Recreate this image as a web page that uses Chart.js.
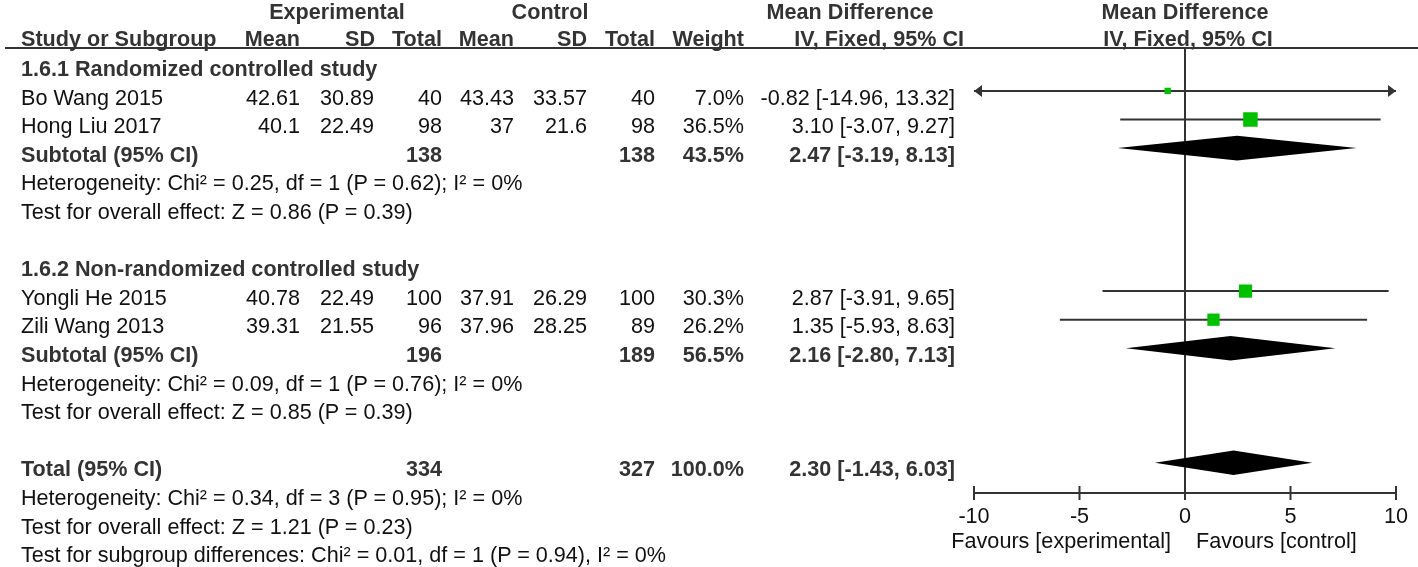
<!DOCTYPE html>
<html>
<head>
<meta charset="utf-8">
<script src="https://cdn.jsdelivr.net/npm/chart.js@4.4.1/dist/chart.umd.min.js"></script>
<style>
html, body { margin: 0; padding: 0; background: #fff; overflow: hidden; }
#page { position: relative; width: 1418px; height: 567px; font-family: "Liberation Sans", Arial, sans-serif; font-size: 21.6px; color: #111; }
#forest { position: absolute; left: 0; top: 0; }
.t { position: absolute; white-space: nowrap; line-height: 28px; height: 28px; }
.b { font-weight: bold; color: #333; }
#rule { position: absolute; left: 5px; top: 47px; width: 1413px; height: 2px; background: #333; }
</style>
</head>
<body>
<div id="page">
    <canvas id="forest" width="1418" height="567"></canvas>
    <div id="rule"></div>
</div>
<script>
// Study data
const studies = ['Bo Wang 2015', 'Hong Liu 2017', 'Yongli He 2015', 'Zili Wang 2013'];
const studyRow = [1, 2, 8, 9];
const expMean = [42.61, 40.1, 40.78, 39.31];
const expSD = [30.89, 22.49, 22.49, 21.55];
const expN = [40, 98, 100, 96];
const ctlMean = [43.43, 37, 37.91, 37.96];
const ctlSD = [33.57, 21.6, 26.29, 28.25];
const ctlN = [40, 98, 100, 89];
const weights = [7.0, 36.5, 30.3, 26.2];
const md = [-0.82, 3.10, 2.87, 1.35];
const ciLow = [-14.96, -3.07, -3.91, -5.93];
const ciHigh = [13.32, 9.27, 9.65, 8.63];

// Subgroups
const groupNames = ['1.6.1 Randomized controlled study', '1.6.2 Non-randomized controlled study'];
const groupRow = [0, 7];
const subRow = [3, 10];
const subExpN = [138, 196];
const subCtlN = [138, 189];
const subWeight = [43.5, 56.5];
const subMD = [2.47, 2.16];
const subLow = [-3.19, -2.80];
const subHigh = [8.13, 7.13];
const subHet = ['Heterogeneity: Chi² = 0.25, df = 1 (P = 0.62); I² = 0%', 'Heterogeneity: Chi² = 0.09, df = 1 (P = 0.76); I² = 0%'];
const subEffect = ['Test for overall effect: Z = 0.86 (P = 0.39)', 'Test for overall effect: Z = 0.85 (P = 0.39)'];

// Overall
const totalRow = 14;
const totalExpN = 334;
const totalCtlN = 327;
const totalWeight = 100.0;
const totalMD = 2.30;
const totalLow = -1.43;
const totalHigh = 6.03;
const totalNotes = [
    'Heterogeneity: Chi² = 0.34, df = 3 (P = 0.95); I² = 0%',
    'Test for overall effect: Z = 1.21 (P = 0.23)',
    'Test for subgroup differences: Chi² = 0.01, df = 1 (P = 0.94), I² = 0%'
];

const xTicks = [-10, -5, 0, 5, 10];
const favours = ['Favours [experimental]', 'Favours [control]'];



// Table text
const page = document.getElementById('page');
const col = { name: 21, expMean: 300, expSD: 374, expN: 442, ctlMean: 514, ctlSD: 587, ctlN: 655, weight: 744, ci: 955 };
const rowY = (r) => 69 + 28.6 * r;

const addText = (text, x, cy, align, bold) => {
    const el = document.createElement('div');
    el.className = bold ? 't b' : 't';
    el.textContent = text;
    el.style.top = `${cy - 14}px`;
    if (align === 'right') {
        el.style.right = `${1418 - x}px`;
    } else if (align === 'center') {
        el.style.left = `${x}px`;
        el.style.transform = 'translateX(-50%)';
    } else {
        el.style.left = `${x}px`;
    }
    page.appendChild(el);
};

const ciText = (m, lo, hi) => `${m.toFixed(2)} [${lo.toFixed(2)}, ${hi.toFixed(2)}]`;

// headers
addText('Experimental', 337, 12, 'center', true);
addText('Control', 550, 12, 'center', true);
addText('Mean Difference', 850, 12, 'center', true);
addText('Mean Difference', 1185, 12, 'center', true);
addText('Study or Subgroup', col.name, 38.5, 'left', true);
addText('Mean', col.expMean, 38.5, 'right', true);
addText('SD', col.expSD + 1, 38.5, 'right', true);
addText('Total', col.expN, 38.5, 'right', true);
addText('Mean', col.ctlMean, 38.5, 'right', true);
addText('SD', col.ctlSD, 38.5, 'right', true);
addText('Total', col.ctlN, 38.5, 'right', true);
addText('Weight', col.weight, 38.5, 'right', true);
addText('IV, Fixed, 95% CI', 964, 38.5, 'right', true);
addText('IV, Fixed, 95% CI', 1188, 38.5, 'center', true);

groupNames.forEach((g, i) => {
    addText(g, col.name, rowY(groupRow[i]), 'left', true);
    const y = rowY(subRow[i]);
    addText('Subtotal (95% CI)', col.name, y, 'left', true);
    addText(String(subExpN[i]), col.expN, y, 'right', true);
    addText(String(subCtlN[i]), col.ctlN, y, 'right', true);
    addText(`${subWeight[i].toFixed(1)}%`, col.weight, y, 'right', true);
    addText(ciText(subMD[i], subLow[i], subHigh[i]), col.ci, y, 'right', true);
    addText(subHet[i], col.name, rowY(subRow[i] + 1), 'left', false);
    addText(subEffect[i], col.name, rowY(subRow[i] + 2), 'left', false);
});

studies.forEach((s, i) => {
    const y = rowY(studyRow[i]);
    addText(s, col.name, y, 'left', false);
    addText(String(expMean[i]), col.expMean, y, 'right', false);
    addText(String(expSD[i]), col.expSD, y, 'right', false);
    addText(String(expN[i]), col.expN, y, 'right', false);
    addText(String(ctlMean[i]), col.ctlMean, y, 'right', false);
    addText(String(ctlSD[i]), col.ctlSD, y, 'right', false);
    addText(String(ctlN[i]), col.ctlN, y, 'right', false);
    addText(`${weights[i].toFixed(1)}%`, col.weight, y, 'right', false);
    addText(ciText(md[i], ciLow[i], ciHigh[i]), col.ci, y, 'right', false);
});

const ty = rowY(totalRow);
addText('Total (95% CI)', col.name, ty, 'left', true);
addText(String(totalExpN), col.expN, ty, 'right', true);
addText(String(totalCtlN), col.ctlN, ty, 'right', true);
addText(`${totalWeight.toFixed(1)}%`, col.weight, ty, 'right', true);
addText(ciText(totalMD, totalLow, totalHigh), col.ci, ty, 'right', true);
totalNotes.forEach((n, i) => addText(n, col.name, rowY(totalRow + 1 + i), 'left', false));



// Forest plot
const X_MIN = xTicks[0];
const X_MAX = xTicks[xTicks.length - 1];
const clampX = (v) => Math.min(X_MAX, Math.max(X_MIN, v));

const diamonds = [
    ...subMD.map((m, i) => ({ md: m, lo: subLow[i], hi: subHigh[i], row: subRow[i] })),
    { md: totalMD, lo: totalLow, hi: totalHigh, row: totalRow }
];

const forestPlugin = {
    id: 'forest',
    beforeDatasetsDraw(chart) {
        const { ctx, chartArea, scales: { x } } = chart;
        const x0 = x.getPixelForValue(0);
        ctx.save();
        ctx.strokeStyle = '#333';
        ctx.lineWidth = 2;
        ctx.beginPath();
        ctx.moveTo(x0, chartArea.top);
        ctx.lineTo(x0, chartArea.bottom);
        ctx.stroke();
        ctx.restore();
    },
    afterDatasetsDraw(chart) {
        const { ctx, chartArea, scales: { x, y } } = chart;
        ctx.save();

        // arrows where the CI runs past the axis
        ctx.fillStyle = '#333';
        studies.forEach((s, i) => {
            const py = y.getPixelForValue(studyRow[i]);
            if (ciLow[i] < X_MIN) {
                const px = x.getPixelForValue(X_MIN);
                ctx.beginPath();
                ctx.moveTo(px, py);
                ctx.lineTo(px + 8, py - 6);
                ctx.lineTo(px + 8, py + 6);
                ctx.closePath();
                ctx.fill();
            }
            if (ciHigh[i] > X_MAX) {
                const px = x.getPixelForValue(X_MAX);
                ctx.beginPath();
                ctx.moveTo(px, py);
                ctx.lineTo(px - 8, py - 6);
                ctx.lineTo(px - 8, py + 6);
                ctx.closePath();
                ctx.fill();
            }
        });

        // pooled diamonds
        ctx.fillStyle = '#000';
        diamonds.forEach((d) => {
            const py = y.getPixelForValue(d.row);
            const h = 12.3;
            ctx.beginPath();
            ctx.moveTo(x.getPixelForValue(d.lo), py);
            ctx.lineTo(x.getPixelForValue(d.md), py - h);
            ctx.lineTo(x.getPixelForValue(d.hi), py);
            ctx.lineTo(x.getPixelForValue(d.md), py + h);
            ctx.closePath();
            ctx.fill();
        });

        // axis
        const ay = chartArea.bottom;
        ctx.strokeStyle = '#333';
        ctx.lineWidth = 2;
        ctx.beginPath();
        ctx.moveTo(x.getPixelForValue(X_MIN), ay);
        ctx.lineTo(x.getPixelForValue(X_MAX), ay);
        xTicks.forEach((t) => {
            const px = x.getPixelForValue(t);
            ctx.moveTo(px, ay - 7);
            ctx.lineTo(px, ay + 7);
        });
        ctx.stroke();

        ctx.fillStyle = '#111';
        ctx.font = '21.6px "Liberation Sans", Arial, sans-serif';
        ctx.textAlign = 'center';
        ctx.textBaseline = 'alphabetic';
        xTicks.forEach((t) => ctx.fillText(String(t), x.getPixelForValue(t), ay + 30));

        const x0 = x.getPixelForValue(0);
        ctx.textAlign = 'right';
        ctx.fillText(favours[0], x0 - 14, ay + 55);
        ctx.textAlign = 'left';
        ctx.fillText(favours[1], x0 + 11, ay + 55);

        ctx.restore();
    }
};

const ciDatasets = studies.map((s, i) => ({
    label: s,
    data: [{ x: clampX(ciLow[i]), y: studyRow[i] }, { x: clampX(ciHigh[i]), y: studyRow[i] }],
    showLine: true,
    borderColor: '#333',
    borderWidth: 2,
    pointRadius: 0,
    order: 1
}));

const squares = {
    label: 'Mean difference',
    data: md.map((m, i) => ({ x: m, y: studyRow[i] })),
    pointStyle: 'rect',
    pointRadius: weights.map((w) => 2.4 * Math.sqrt(w) / Math.SQRT2),
    backgroundColor: '#00c000',
    borderWidth: 0,
    order: 0
};

const forestChart = new Chart(document.getElementById('forest'), {
    type: 'scatter',
    data: { datasets: [squares, ...ciDatasets] },
    options: {
        responsive: false,
        animation: false,
        layout: { padding: { left: 974, right: 22, top: 48, bottom: 74 } },
        scales: {
            x: { type: 'linear', min: X_MIN, max: X_MAX, display: false },
            y: { type: 'linear', min: -0.5, max: 15.06, reverse: true, display: false }
        },
        plugins: {
            legend: { display: false },
            tooltip: { enabled: false }
        }
    },
    plugins: [forestPlugin]
});
</script>
</body>
</html>
